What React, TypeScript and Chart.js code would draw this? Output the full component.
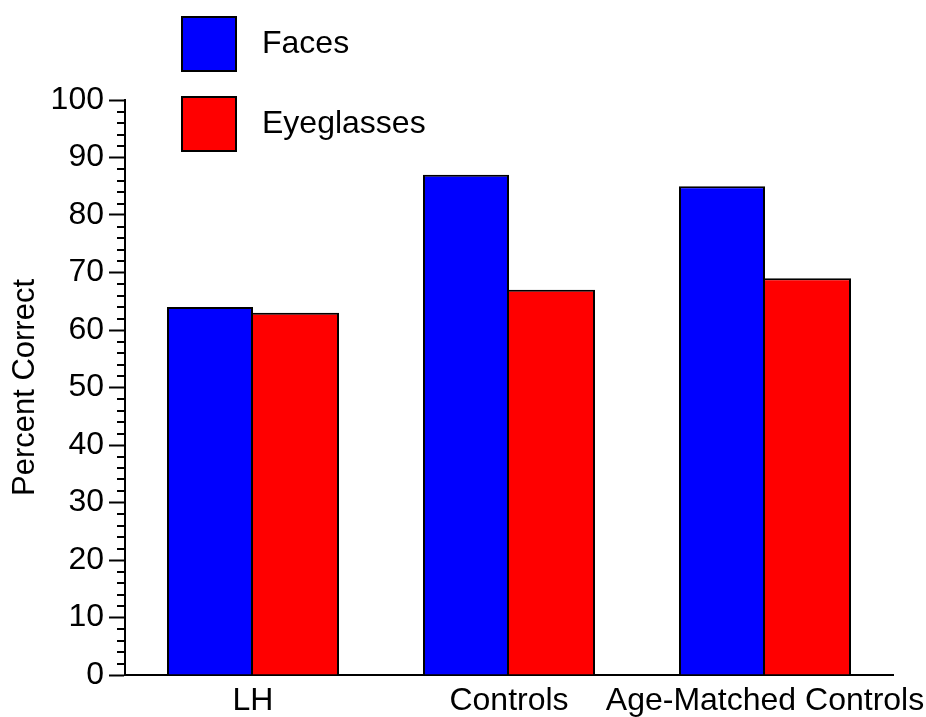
import React, { useEffect, useRef } from "react";
import { Chart, registerables } from "chart.js";

Chart.register(...registerables);

const categories = ["LH", "Controls", "Age-Matched Controls"];
const facesValues = [64, 87, 85];
const eyeglassesValues = [63, 67, 69];
const seriesLabels = ["Faces", "Eyeglasses"];
const yTickStep = 10;
const yMinorStep = 2;

const FONT = "'Liberation Sans', Arial, Helvetica, sans-serif";

const minorTicksPlugin = {
  id: "minorTicks",
  afterDraw(chart: any) {
    const y = chart.scales.y;
    const ctx = chart.ctx;
    ctx.save();
    ctx.strokeStyle = "#000";
    ctx.lineWidth = 2;
    for (let v = y.min; v <= y.max; v += yMinorStep) {
      if (v % yTickStep === 0) continue;
      const py = Math.round(y.getPixelForValue(v));
      ctx.beginPath();
      ctx.moveTo(y.right - 8, py);
      ctx.lineTo(y.right, py);
      ctx.stroke();
    }
    ctx.restore();
  },
};

const boxLegendPlugin = {
  id: "boxLegend",
  afterDraw(chart: any) {
    const ctx = chart.ctx;
    const ds = chart.data.datasets;
    ctx.save();
    const x0 = 182;
    const size = 54;
    const tops = [17, 97];
    ds.forEach((d: any, i: number) => {
      const top = tops[i];
      ctx.fillStyle = d.backgroundColor;
      ctx.fillRect(x0, top, size, size);
      ctx.strokeStyle = "#000";
      ctx.lineWidth = 2;
      ctx.strokeRect(x0, top, size, size);
      ctx.fillStyle = "#000";
      ctx.font = `32px ${FONT}`;
      ctx.textBaseline = "middle";
      ctx.textAlign = "left";
      ctx.fillText(d.label, 262, top + size / 2);
    });
    ctx.restore();
  },
};

export default function App() {
  const ref = useRef<HTMLCanvasElement | null>(null);
  useEffect(() => {
    if (!ref.current) return;
    Chart.defaults.font.family = FONT;
    Chart.defaults.color = "#000";
    const chart = new Chart(ref.current, {
      type: "bar",
      data: {
        labels: categories,
        datasets: [
          {
            label: seriesLabels[0],
            data: facesValues,
            backgroundColor: "#0000ff",
            borderColor: "#000",
            borderWidth: { left: 2, top: 2, right: 2, bottom: 0 },
            borderSkipped: false,
            categoryPercentage: 0.672,
            barPercentage: 1,
          },
          {
            label: seriesLabels[1],
            data: eyeglassesValues,
            backgroundColor: "#ff0000",
            borderColor: "#000",
            borderWidth: { left: 0, top: 2, right: 2, bottom: 0 },
            borderSkipped: false,
            categoryPercentage: 0.672,
            barPercentage: 1,
          },
        ],
      },
      options: {
        animation: false,
        responsive: false,
        devicePixelRatio: 1,
        layout: { padding: { top: 100, right: 33, left: 0, bottom: 0 } },
        plugins: { legend: { display: false }, tooltip: { enabled: false } },
        scales: {
          x: {
            grid: { display: false, drawTicks: false, tickLength: 0 },
            border: { display: true, color: "#000", width: 2 },
            ticks: { font: { size: 32 }, color: "#000", padding: 7, maxRotation: 0, autoSkip: false },
            afterFit(scale: any) {
              scale.height = 42;
              scale.paddingLeft = 0;
              scale.paddingRight = 0;
            },
          },
          y: {
            min: 0,
            max: 100,
            ticks: { stepSize: yTickStep, font: { size: 32 }, color: "#000", padding: 5 },
            grid: { drawOnChartArea: false, tickLength: 16, tickColor: "#000", tickWidth: 2 },
            border: { display: true, color: "#000", width: 2 },
            title: { display: true, text: "Percent Correct", font: { size: 31 }, color: "#000", padding: { top: 7, bottom: 0 } },
            afterFit(scale: any) {
              scale.width = 125;
              scale.paddingTop = 0;
              scale.paddingBottom = 0;
            },
          },
        },
      },
      plugins: [minorTicksPlugin, boxLegendPlugin],
    });
    return () => chart.destroy();
  }, []);
  return (
    <div style={{ position: "absolute", left: 0, top: 0, width: 926, height: 717, background: "#fff" }}>
      <canvas ref={ref} width={926} height={717} style={{ display: "block" }} />
    </div>
  );
}
